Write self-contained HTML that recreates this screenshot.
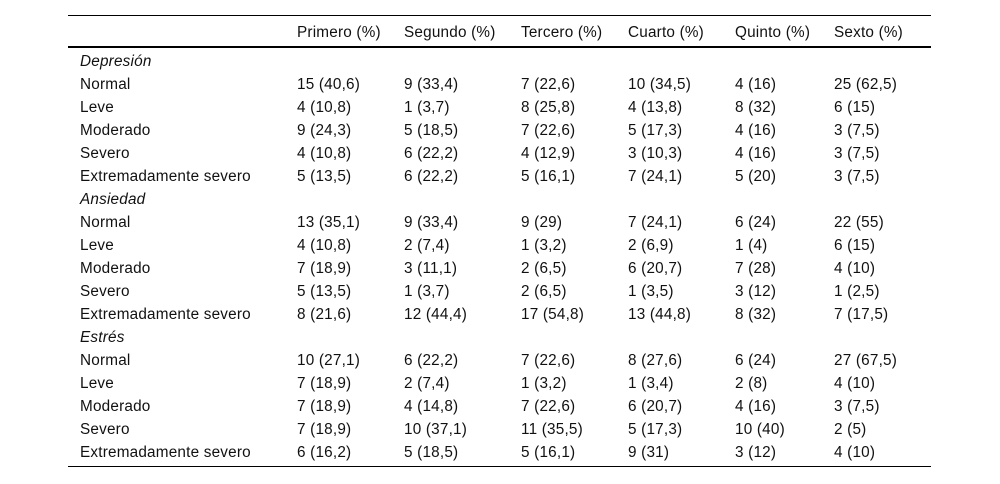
<!DOCTYPE html>
<html><head><meta charset="utf-8"><style>
body{margin:0;width:1000px;height:484px;background:#fff;position:relative;font-family:"Liberation Sans",sans-serif;font-size:15.3px;letter-spacing:0.2px;color:#111;overflow:hidden}
.l{position:absolute;left:68px;width:863px;background:#000}
.t{position:absolute;white-space:nowrap;line-height:16px}
</style></head><body>
<div class="l" style="top:15px;height:1px"></div>
<div class="l" style="top:46px;height:2px"></div>
<div class="l" style="top:466px;height:1px"></div>
<div id="tbl"></div>
<script>
const cols=[297,404,521,628,735,834];
const headers=["Primero (%)","Segundo (%)","Tercero (%)","Cuarto (%)","Quinto (%)","Sexto (%)"];
const rows=[
["Depresión"],
["Normal","15 (40,6)","9 (33,4)","7 (22,6)","10 (34,5)","4 (16)","25 (62,5)"],
["Leve","4 (10,8)","1 (3,7)","8 (25,8)","4 (13,8)","8 (32)","6 (15)"],
["Moderado","9 (24,3)","5 (18,5)","7 (22,6)","5 (17,3)","4 (16)","3 (7,5)"],
["Severo","4 (10,8)","6 (22,2)","4 (12,9)","3 (10,3)","4 (16)","3 (7,5)"],
["Extremadamente severo","5 (13,5)","6 (22,2)","5 (16,1)","7 (24,1)","5 (20)","3 (7,5)"],
["Ansiedad"],
["Normal","13 (35,1)","9 (33,4)","9 (29)","7 (24,1)","6 (24)","22 (55)"],
["Leve","4 (10,8)","2 (7,4)","1 (3,2)","2 (6,9)","1 (4)","6 (15)"],
["Moderado","7 (18,9)","3 (11,1)","2 (6,5)","6 (20,7)","7 (28)","4 (10)"],
["Severo","5 (13,5)","1 (3,7)","2 (6,5)","1 (3,5)","3 (12)","1 (2,5)"],
["Extremadamente severo","8 (21,6)","12 (44,4)","17 (54,8)","13 (44,8)","8 (32)","7 (17,5)"],
["Estrés"],
["Normal","10 (27,1)","6 (22,2)","7 (22,6)","8 (27,6)","6 (24)","27 (67,5)"],
["Leve","7 (18,9)","2 (7,4)","1 (3,2)","1 (3,4)","2 (8)","4 (10)"],
["Moderado","7 (18,9)","4 (14,8)","7 (22,6)","6 (20,7)","4 (16)","3 (7,5)"],
["Severo","7 (18,9)","10 (37,1)","11 (35,5)","5 (17,3)","10 (40)","2 (5)"],
["Extremadamente severo","6 (16,2)","5 (18,5)","5 (16,1)","9 (31)","3 (12)","4 (10)"]
];
const tbl=document.getElementById('tbl');
function add(txt,x,y,name,italic){
  const d=document.createElement('div');
  d.className='t';d.textContent=txt;
  d.style.left=x+'px';d.style.top=(y-6)+'px';
  if(italic)d.style.fontStyle='italic';
  
  
  tbl.appendChild(d);
}
headers.forEach((h,i)=>add(h,cols[i],31,'column-header',false));
rows.forEach((r,ri)=>{
  const y=60+ri*23;
  if(r.length===1){add(r[0],80,y,'section-label',true);return;}
  add(r[0],80,y,'row-label',false);
  for(let i=1;i<r.length;i++)add(r[i],cols[i-1],y,'cell-value',false);
});
</script>
</body></html>
